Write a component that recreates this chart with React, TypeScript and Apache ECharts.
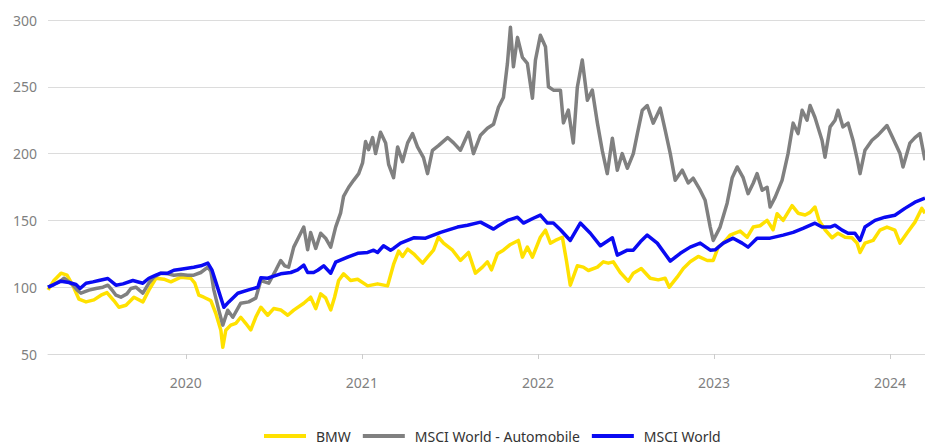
import React, { useEffect, useRef } from "react";
import * as echarts from "echarts";

// [decimal year, indexed value]
const bmw: [number, number][] = [
  [2019.217, 98], [2019.251, 105], [2019.291, 110.5], [2019.325, 109], [2019.359, 101], [2019.393, 91],
  [2019.433, 89], [2019.478, 90.5], [2019.518, 94], [2019.552, 96], [2019.591, 90], [2019.62, 85],
  [2019.66, 86.5], [2019.705, 92.5], [2019.756, 89], [2019.79, 97.8], [2019.83, 106.7], [2019.875, 106],
  [2019.915, 104], [2019.972, 107.5], [2020.028, 106.7], [2020.051, 103], [2020.074, 94], [2020.102, 92.5],
  [2020.142, 90], [2020.17, 80.5], [2020.199, 67.8], [2020.21, 55], [2020.227, 67.8], [2020.255, 71.6],
  [2020.284, 73], [2020.312, 77.5], [2020.34, 73], [2020.369, 68], [2020.397, 77.5], [2020.426, 85],
  [2020.465, 79], [2020.499, 84], [2020.539, 83], [2020.579, 79], [2020.613, 82.8], [2020.67, 88],
  [2020.709, 92.5], [2020.738, 84], [2020.766, 95], [2020.794, 92], [2020.823, 83], [2020.845, 92.5],
  [2020.868, 105], [2020.896, 110], [2020.936, 105], [2020.976, 106], [2021.033, 101], [2021.089, 102.5],
  [2021.146, 101], [2021.18, 117], [2021.209, 127], [2021.231, 123], [2021.26, 128.5], [2021.294, 125],
  [2021.345, 118], [2021.373, 122.5], [2021.407, 127.7], [2021.435, 137.4], [2021.464, 133], [2021.515, 127.7],
  [2021.56, 120], [2021.606, 126], [2021.645, 110.5], [2021.685, 115], [2021.713, 119], [2021.736, 113],
  [2021.77, 125], [2021.804, 127.7], [2021.844, 132], [2021.889, 135], [2021.912, 122.5], [2021.94, 130],
  [2021.969, 122.5], [2022.014, 137.4], [2022.043, 142.7], [2022.071, 133], [2022.099, 135], [2022.139, 137.4],
  [2022.162, 120], [2022.184, 101.5], [2022.224, 116], [2022.258, 115], [2022.287, 112.5], [2022.338, 115],
  [2022.372, 119], [2022.4, 118], [2022.428, 119], [2022.468, 111], [2022.513, 104.5], [2022.542, 110.5],
  [2022.587, 114], [2022.638, 106.7], [2022.684, 105.5], [2022.723, 106.7], [2022.746, 100], [2022.791, 107.5],
  [2022.826, 114], [2022.865, 119], [2022.911, 123], [2022.962, 120], [2022.996, 120], [2023.024, 130],
  [2023.053, 133], [2023.092, 139], [2023.149, 142], [2023.189, 137.4], [2023.223, 145], [2023.262, 146],
  [2023.302, 150], [2023.336, 143], [2023.359, 155], [2023.393, 150], [2023.444, 161], [2023.478, 155.4],
  [2023.518, 154], [2023.546, 156], [2023.574, 160], [2023.597, 150], [2023.631, 143], [2023.671, 137],
  [2023.705, 140.4], [2023.745, 137.4], [2023.784, 137], [2023.813, 133], [2023.83, 126], [2023.858, 133],
  [2023.904, 135], [2023.943, 142.7], [2023.983, 145], [2024.028, 142.7], [2024.057, 133], [2024.096, 140.4],
  [2024.142, 148.7], [2024.181, 159], [2024.199, 155.4],
];

const msciAuto: [number, number][] = [
  [2019.217, 100], [2019.262, 103], [2019.291, 105], [2019.308, 106.7], [2019.336, 104], [2019.359, 101.5],
  [2019.382, 98], [2019.404, 95.5], [2019.45, 97.8], [2019.489, 99], [2019.529, 100], [2019.557, 101.5],
  [2019.586, 97], [2019.603, 94], [2019.631, 92.5], [2019.665, 95], [2019.688, 99], [2019.716, 100],
  [2019.756, 95.5], [2019.79, 103], [2019.818, 107.5], [2019.858, 110.5], [2019.898, 110], [2019.932, 109],
  [2019.972, 109.5], [2020.011, 109], [2020.045, 109], [2020.085, 111], [2020.125, 115], [2020.142, 112],
  [2020.159, 98], [2020.187, 83], [2020.21, 71.6], [2020.238, 82.8], [2020.267, 77.5], [2020.312, 88],
  [2020.357, 89], [2020.397, 91.8], [2020.426, 105], [2020.448, 104], [2020.471, 103], [2020.511, 112.7],
  [2020.539, 120], [2020.562, 116], [2020.584, 115], [2020.613, 130], [2020.641, 137.4], [2020.67, 145],
  [2020.692, 128], [2020.709, 141], [2020.738, 129], [2020.766, 140.4], [2020.794, 136.7], [2020.823, 130],
  [2020.851, 145], [2020.879, 155.4], [2020.896, 168], [2020.925, 174.8], [2020.953, 180], [2020.982, 185],
  [2021.004, 193], [2021.021, 209], [2021.038, 203], [2021.061, 212], [2021.078, 200], [2021.106, 216],
  [2021.135, 208], [2021.152, 192], [2021.18, 182], [2021.203, 205], [2021.231, 194], [2021.26, 208],
  [2021.288, 215], [2021.316, 205], [2021.35, 197], [2021.373, 185], [2021.401, 202.5], [2021.435, 206],
  [2021.487, 212], [2021.521, 208], [2021.56, 202.5], [2021.606, 216], [2021.634, 200], [2021.674, 213.8],
  [2021.713, 219], [2021.748, 222], [2021.776, 234.7], [2021.804, 242], [2021.827, 267.6], [2021.844, 294.6],
  [2021.861, 265], [2021.884, 287], [2021.912, 272], [2021.94, 267.6], [2021.969, 241.5], [2021.986, 270],
  [2022.014, 288.6], [2022.043, 280], [2022.06, 250], [2022.088, 247.5], [2022.128, 247.5], [2022.145, 223],
  [2022.173, 232.5], [2022.201, 208], [2022.224, 249.7], [2022.252, 270], [2022.281, 240], [2022.309, 247.5],
  [2022.338, 222.8], [2022.366, 202], [2022.394, 185], [2022.423, 211.5], [2022.451, 187.6], [2022.479, 200],
  [2022.508, 189], [2022.542, 200], [2022.565, 215], [2022.593, 232.5], [2022.621, 236], [2022.655, 222.8],
  [2022.695, 234], [2022.723, 217.5], [2022.752, 200], [2022.78, 180], [2022.82, 187.6], [2022.854, 178],
  [2022.882, 181.6], [2022.922, 172.6], [2022.95, 165], [2022.979, 145], [2022.996, 135], [2023.035, 145],
  [2023.075, 162.9], [2023.104, 182], [2023.132, 190], [2023.166, 182], [2023.194, 170], [2023.223, 177.8],
  [2023.245, 185], [2023.274, 172.6], [2023.302, 174.8], [2023.319, 160], [2023.348, 167.4], [2023.387, 180],
  [2023.421, 200], [2023.45, 222.8], [2023.478, 215], [2023.501, 232.5], [2023.529, 225], [2023.546, 236],
  [2023.574, 227], [2023.614, 210], [2023.631, 197.3], [2023.66, 220], [2023.688, 225], [2023.705, 232.5],
  [2023.733, 220], [2023.762, 222.8], [2023.79, 210], [2023.813, 196.5], [2023.83, 185], [2023.858, 202.5],
  [2023.898, 210], [2023.932, 213.8], [2023.983, 221], [2024.017, 211.5], [2024.057, 200], [2024.074, 190],
  [2024.113, 207.8], [2024.142, 212], [2024.17, 215], [2024.199, 195],
];

const msciWorld: [number, number][] = [
  [2019.217, 100], [2019.251, 102], [2019.291, 104.5], [2019.336, 103.5], [2019.376, 102], [2019.399, 99],
  [2019.433, 103], [2019.472, 104], [2019.506, 105], [2019.557, 106.5], [2019.603, 101.5], [2019.643, 102.5],
  [2019.699, 105], [2019.756, 103], [2019.79, 106.7], [2019.83, 109], [2019.858, 110.5], [2019.898, 110.5],
  [2019.932, 112.7], [2019.972, 113.5], [2020.045, 115], [2020.085, 116], [2020.125, 118], [2020.148, 113],
  [2020.17, 104], [2020.199, 92], [2020.216, 85], [2020.244, 89], [2020.295, 95.5], [2020.352, 97.8],
  [2020.409, 100], [2020.426, 107], [2020.465, 106.7], [2020.482, 107.5], [2020.539, 110], [2020.596, 111],
  [2020.635, 113], [2020.67, 116.5], [2020.692, 111], [2020.726, 111], [2020.749, 112.7], [2020.783, 116],
  [2020.823, 110.5], [2020.851, 118.7], [2020.919, 122.5], [2020.976, 125.4], [2021.033, 126], [2021.067, 127.7],
  [2021.089, 126], [2021.123, 131], [2021.163, 127.7], [2021.18, 129], [2021.22, 133], [2021.294, 137],
  [2021.362, 136.7], [2021.447, 141], [2021.543, 145], [2021.6, 146.4], [2021.674, 148.7], [2021.748, 143.5],
  [2021.776, 146], [2021.827, 150], [2021.884, 152.4], [2021.918, 148], [2021.974, 151.6], [2022.014, 154],
  [2022.054, 148], [2022.088, 148], [2022.128, 143], [2022.184, 135], [2022.241, 148], [2022.298, 140.4],
  [2022.355, 131], [2022.4, 135], [2022.423, 137], [2022.451, 124], [2022.508, 127.7], [2022.542, 127.7],
  [2022.582, 134], [2022.621, 139], [2022.678, 133], [2022.752, 119.5], [2022.809, 125.4], [2022.865, 130],
  [2022.922, 133], [2022.979, 127.7], [2023.007, 128], [2023.053, 133], [2023.109, 136.7], [2023.16, 133],
  [2023.194, 130], [2023.245, 136.7], [2023.319, 136.7], [2023.393, 139], [2023.45, 141], [2023.506, 144],
  [2023.574, 147.9], [2023.614, 145], [2023.66, 145], [2023.688, 146.4], [2023.728, 142.7], [2023.762, 140.4],
  [2023.801, 140.4], [2023.83, 135], [2023.858, 145], [2023.915, 150], [2023.972, 152.4], [2024.028, 153.9],
  [2024.085, 159], [2024.142, 163.6], [2024.199, 166.6],
];

const yearTicks = [2020, 2021, 2022, 2023, 2024];
const seriesNames = ["BMW", "MSCI World - Automobile", "MSCI World"];
const seriesColors = ["#ffe100", "#808080", "#0a0af2"];

export default function App() {
  const ref = useRef<HTMLDivElement>(null);
  useEffect(() => {
    if (!ref.current) return;
    const chart = echarts.init(ref.current, undefined, { renderer: "svg" });
    const datasets = [bmw, msciAuto, msciWorld];
    chart.setOption({
      animation: false,
      textStyle: { fontFamily: "Noto Sans" },
      grid: { left: 48, right: 0, top: 20, bottom: 92 },
      legend: {
        left: 259,
        top: 424,
        icon: "rect",
        itemWidth: 42,
        itemHeight: 4,
        itemGap: 12,
        textStyle: { color: "#333", fontSize: 14, padding: [3, 0, 0, 5], fontFamily: "Noto Sans" },
        data: seriesNames,
      },
      xAxis: {
        type: "value",
        min: 2019.217,
        max: 2024.199,
        splitLine: { show: false },
        axisLine: { show: true, lineStyle: { color: "#d9d9d9", width: 1 } },
        axisTick: { show: true, customValues: yearTicks, length: 5, lineStyle: { color: "#cccccc" } },
        axisLabel: {
          customValues: yearTicks,
          margin: 21,
          color: "#7f7f7f",
          fontSize: 14,
          formatter: (v: number) => String(Math.round(v)),
        },
      },
      yAxis: {
        type: "value",
        min: 50,
        max: 300,
        interval: 50,
        axisLine: { show: false },
        axisTick: { show: false },
        splitLine: { lineStyle: { color: "#dcdcdc", width: 1 } },
        axisLabel: { color: "#7f7f7f", fontSize: 14, margin: 11 },
      },
      series: datasets.map((d, i) => ({
        name: seriesNames[i],
        type: "line",
        data: d,
        showSymbol: false,
        symbol: "none",
        color: seriesColors[i],
        lineStyle: { color: seriesColors[i], width: 3.5, join: "round" },
      })),
    });
    return () => chart.dispose();
  }, []);
  return (
    <div
      ref={ref}
      style={{ position: "fixed", left: 0, top: 0, width: 925, height: 446, background: "#fff" }}
    />
  );
}
